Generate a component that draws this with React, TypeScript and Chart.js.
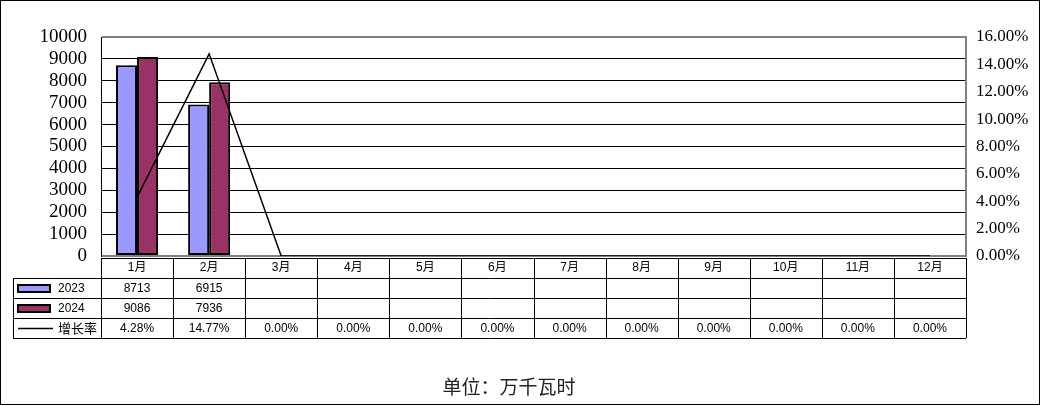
import { Chart, registerables } from 'chart.js'
import React, { useEffect, useRef } from 'react'

Chart.register(...registerables)

const months = ['1月', '2月', '3月', '4月', '5月', '6月', '7月', '8月', '9月', '10月', '11月', '12月']
const seriesNames = ['2023', '2024', '增长率']
const values2023 = [8713, 6915, null, null, null, null, null, null, null, null, null, null]
const values2024 = [9086, 7936, null, null, null, null, null, null, null, null, null, null]
const growthRate = [4.28, 14.77, 0, 0, 0, 0, 0, 0, 0, 0, 0, 0]
const unitLabel = '单位：万千瓦时'

const color2023 = '#9999FF'
const color2024 = '#993366'
const tableFont = "12px 'Liberation Sans', 'Noto Sans CJK SC', sans-serif"
const cjkFont = "13px 'Noto Sans CJK SC', sans-serif"

// draws the white background, outer frame, data table and unit caption
const tablePlugin = {
  id: 'dataTable',
  beforeDraw(chart: Chart) {
    const { ctx, width, height } = chart
    ctx.save()
    ctx.fillStyle = '#fff'
    ctx.fillRect(0, 0, width, height)
    ctx.restore()
  },
  afterDraw(chart: Chart) {
    const { ctx, chartArea } = chart
    const left = chartArea.left
    const right = chartArea.right
    const colW = (right - left) / months.length
    const top = Math.round(chartArea.bottom) + 2
    const rowH = 20
    const legendLeft = 13
    const px = (v: number) => Math.round(v) + 0.5

    ctx.save()
    ctx.strokeStyle = '#000'
    ctx.lineWidth = 1

    // outer frame
    ctx.strokeRect(0.5, 0.5, 1039, 404)

    ctx.beginPath()
    // horizontal rules
    ctx.moveTo(left, px(top))
    ctx.lineTo(right, px(top))
    for (let r = 1; r <= 4; r++) {
      ctx.moveTo(legendLeft, px(top + r * rowH))
      ctx.lineTo(right, px(top + r * rowH))
    }
    // vertical rules
    ctx.moveTo(px(legendLeft), top + rowH)
    ctx.lineTo(px(legendLeft), top + 4 * rowH)
    for (let i = 0; i <= months.length; i++) {
      const x = px(left + i * colW)
      ctx.moveTo(x, top)
      ctx.lineTo(x, top + 4 * rowH)
    }
    ctx.stroke()

    // legend keys
    const keys = [color2023, color2024]
    keys.forEach((c, i) => {
      const y = top + rowH * (i + 1) + 7
      ctx.fillStyle = c
      ctx.fillRect(18, y, 32, 7)
      ctx.lineWidth = 2
      ctx.strokeRect(18, y, 32, 7)
    })
    ctx.lineWidth = 1.5
    ctx.beginPath()
    ctx.moveTo(18, top + rowH * 3 + 10.5)
    ctx.lineTo(53, top + rowH * 3 + 10.5)
    ctx.stroke()

    ctx.fillStyle = '#000'
    ctx.textBaseline = 'middle'
    ctx.textAlign = 'left'
    ctx.font = tableFont
    ctx.fillText(seriesNames[0], 58, top + rowH * 1.5 + 1)
    ctx.fillText(seriesNames[1], 58, top + rowH * 2.5 + 1)
    ctx.font = cjkFont
    ctx.fillText(seriesNames[2], 58, top + rowH * 3.5)

    // cells
    ctx.textAlign = 'center'
    months.forEach((m, i) => {
      const cx = left + (i + 0.5) * colW
      ctx.font = tableFont
      ctx.fillText(m, cx, top + rowH * 0.5)
      const a = values2023[i]
      const b = values2024[i]
      if (a !== null) ctx.fillText(String(a), cx, top + rowH * 1.5 + 1)
      if (b !== null) ctx.fillText(String(b), cx, top + rowH * 2.5 + 1)
      ctx.fillText(growthRate[i].toFixed(2) + '%', cx, top + rowH * 3.5 + 1)
    })

    // unit caption
    ctx.font = "19px 'Noto Sans CJK SC', sans-serif"
    ctx.fillStyle = '#222'
    ctx.fillText(unitLabel, 509, 387)
    ctx.restore()
  }
}

const App: React.FC = () => {
  const chartRef = useRef<Chart | null>(null)
  const canvasRef = useRef<HTMLCanvasElement | null>(null)

  useEffect(() => {
    if (!canvasRef.current) return
    if (chartRef.current) chartRef.current.destroy()

    chartRef.current = new Chart(canvasRef.current, {
      type: 'bar',
      data: {
        labels: months,
        datasets: [
          {
            type: 'line',
            label: seriesNames[2],
            data: growthRate,
            yAxisID: 'y1',
            borderColor: '#000',
            borderWidth: 1.5,
            pointRadius: 0,
            tension: 0,
            order: 0
          },
          {
            label: seriesNames[0],
            data: values2023,
            backgroundColor: color2023,
            borderColor: '#000',
            borderWidth: 2,
            borderSkipped: false,
            categoryPercentage: 0.583,
            barPercentage: 1,
            order: 1
          },
          {
            label: seriesNames[1],
            data: values2024,
            backgroundColor: color2024,
            borderColor: '#000',
            borderWidth: 2,
            borderSkipped: false,
            categoryPercentage: 0.583,
            barPercentage: 1,
            order: 1
          }
        ] as any
      },
      options: {
        animation: false,
        responsive: true,
        maintainAspectRatio: false,
        layout: { padding: { top: 37, bottom: 150, left: 0, right: 0 } },
        plugins: { legend: { display: false }, tooltip: { enabled: false } },
        scales: {
          x: { display: false },
          y: {
            position: 'left',
            min: 0,
            max: 10000,
            afterFit: (scale: any) => {
              scale.width = 101
            },
            ticks: {
              stepSize: 1000,
              autoSkip: false,
              padding: 14,
              color: '#000',
              font: { family: "'Liberation Serif', serif", size: 19 },
              callback: (v: any) => String(v)
            },
            grid: {
              drawTicks: false,
              color: (c: any) => (c.tick.value === 10000 || c.tick.value === 0 ? '#808080' : '#000'),
              lineWidth: (c: any) => (c.tick.value === 10000 || c.tick.value === 0 ? 2 : 1)
            },
            border: { color: '#000', width: 1 }
          },
          y1: {
            position: 'right',
            min: 0,
            max: 16,
            afterFit: (scale: any) => {
              scale.width = 76
            },
            ticks: {
              stepSize: 2,
              autoSkip: false,
              padding: 10,
              color: '#000',
              font: { family: "'Liberation Serif', serif", size: 17 },
              callback: (v: any) => Number(v).toFixed(2) + '%'
            },
            grid: { drawOnChartArea: false, drawTicks: false },
            border: { color: '#808080', width: 2 }
          }
        }
      },
      plugins: [tablePlugin]
    })

    return () => {
      if (chartRef.current) {
        chartRef.current.destroy()
        chartRef.current = null
      }
    }
  }, [])

  return (
    <div style={{ position: 'absolute', left: 0, top: 0, width: 1042, height: 406 }}>
      <canvas ref={canvasRef}></canvas>
    </div>
  )
}

export default App
